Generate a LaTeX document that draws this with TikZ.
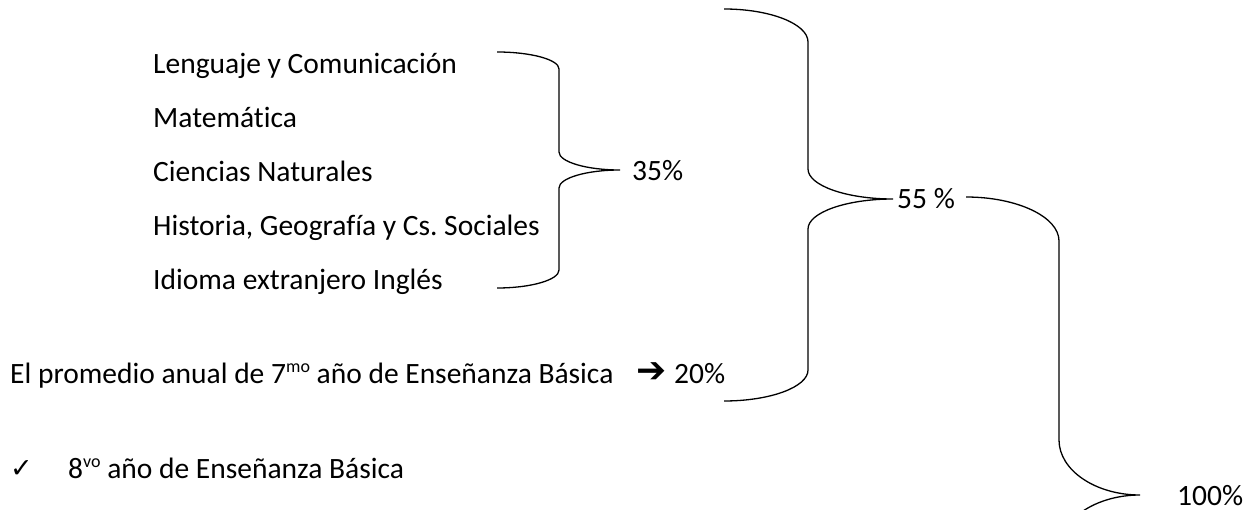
\documentclass[tikz,border=0pt]{standalone}
\usepackage{fontspec}
\setmainfont{Carlito}[Ligatures={NoCommon}]
\newfontfamily\symfont{DejaVu Sans}
\frenchspacing
\newcommand{\supr}[1]{\raisebox{0.36em}{\fontsize{18}{18}\selectfont #1}}
\tikzset{
  txt/.style={anchor=base west, inner sep=0pt, font=\fontsize{29.5}{31}\selectfont},
  bracepath/.style={draw=black, line width=1.3pt}
}
% \bracedraw{xl}{xm}{xt}{ytop}{ymid}{ybot}{rtop}{rmid}{rbot}
\newcommand{\bracedraw}[9]{%
  \draw[bracepath] (#1,#4) .. controls ({#1+0.55*(#2-#1)},#4) and (#2,{#4+0.45*#7}) .. (#2,{#4+#7})
    -- (#2,{#5-#8}) .. controls (#2,{#5-0.45*#8}) and ({#2+0.45*(#3-#2)},#5) .. (#3,#5)
    .. controls ({#2+0.45*(#3-#2)},#5) and (#2,{#5+0.45*#8}) .. (#2,{#5+#8})
    -- (#2,{#6-#9}) .. controls (#2,{#6-0.45*#9}) and ({#1+0.55*(#2-#1)},#6) .. (#1,#6);}
\begin{document}
\begin{tikzpicture}[x=1pt,y=-1pt]
\useasboundingbox (0,0) rectangle (1257,510);
\clip (0,0) rectangle (1257,510);
% subjects
\node[txt] (l1) at (153,74) {Lenguaje y Comunicación};
\node[txt] (l2) at (153,128) {Matemática};
\node[txt] (l3) at (153,182) {Ciencias Naturales};
\node[txt] (l4) at (153,236) {Historia, Geografía y Cs. Sociales};
\node[txt] (l5) at (153,290) {Idioma extranjero Inglés};
% braces
\bracedraw{497}{559}{620}{52}{170}{288}{17}{18}{18}
\node[txt] (p35) at (632,181) {35\%};
\bracedraw{724}{808}{893}{9}{199}{401}{33}{30}{31}
\node[txt] (p55) at (897,209) {55 \%};
\bracedraw{966}{1059}{1140}{197}{495}{793}{44}{55}{55}
\node[txt] (p100) at (1177,505) {100\%};
% promedio line
\node[txt] (prom) at (10,383) {El promedio anual de 7\supr{mo} año de Enseñanza Básica};
\node[txt, font=\symfont\fontsize{36}{38}\selectfont] (arr) at (636,382) {➔};
\node[txt] (p20) at (674,383) {20\%};
% 8vo line
\node[txt, font=\symfont\fontsize{27}{29}\selectfont] (chk) at (10,477) {✓};
\node[txt] (ocho) at (68,478) {8\supr{vo} año de Enseñanza Básica};
\end{tikzpicture}
\end{document}
